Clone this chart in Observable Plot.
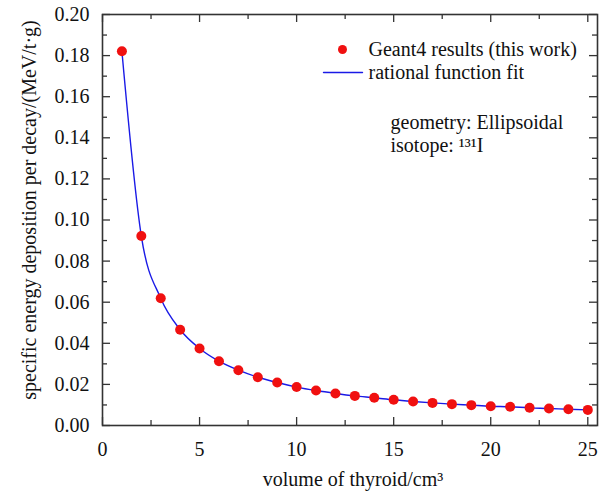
<!DOCTYPE html>
<html>
<head>
<meta charset="utf-8">
<script src="https://cdn.jsdelivr.net/npm/d3@7"></script>
<script src="https://cdn.jsdelivr.net/npm/@observablehq/plot@0.6"></script>
<style>
  html, body { margin: 0; padding: 0; background: #fff; }
  svg { display: block; }
  svg text { font-family: "Liberation Serif", "Times New Roman", serif !important; }
</style>
</head>
<body>
<div id="chart"></div>
<script>
// ---- data ----
const volumes = [1,2,3,4,5,6,7,8,9,10,11,12,13,14,15,16,17,18,19,20,21,22,23,24,25];
const energies = [0.1821,0.0922,0.0619,0.0466,0.0375,0.0313,0.0269,0.0235,0.0209,0.0187,0.0170,0.0156,0.0144,0.0135,0.0125,0.0117,0.0110,0.0104,0.0099,0.0094,0.0091,0.0086,0.0083,0.0079,0.0076];
const xMajor = [0,5,10,15,20,25];
const xMinor = [2.5,7.5,12.5,17.5,22.5];
const yMajor = [0,0.02,0.04,0.06,0.08,0.10,0.12,0.14,0.16,0.18,0.20];
const yMinor = [0.01,0.03,0.05,0.07,0.09,0.11,0.13,0.15,0.17,0.19];
const legendLabels = ["Geant4 results (this work)", "rational function fit"];
const noteLines = ["geometry: Ellipsoidal", "isotope: \u00b9\u00b3\u00b9I"];
const xTitle = "volume of thyroid/cm\u00b3";
const yTitle = "specific energy deposition per decay/(MeV/t\u00b7g)";

const data = volumes.map((v, i) => ({v, e: energies[i]}));

// ---- layout ----
const W = 610, H = 491;
const mL = 102, mR = 13, mT = 14, mB = 66;
const fw = W - mL - mR, fh = H - mT - mB;
const ink = "#333";
const txt = "#111";
const font = "Liberation Serif";
const fs = 20;
const dotColor = "#f01010";
const lineColor = "#1a1ae6";
const lineShape = {draw(ctx, l) { ctx.moveTo(0, 0); ctx.lineTo(0, -l); }};

const chart = Plot.plot({
  width: W, height: H,
  marginLeft: mL, marginRight: mR, marginTop: mT, marginBottom: mB,
  style: {fontFamily: font, fontSize: fs + "px", color: txt, background: "#fff"},
  x: {domain: [0, 25.5]},
  y: {domain: [0, 0.2]},
  marks: [
    // tick labels
    Plot.axisX({ticks: xMajor, tickSize: 0, tickPadding: 16, label: null, fontSize: fs, fontFamily: font, fill: txt}),
    Plot.axisY({ticks: yMajor, tickSize: 0, tickPadding: 13, tickFormat: d3.format(".2f"), label: null, fontSize: fs, fontFamily: font, fill: txt}),
    // inward ticks
    Plot.tickY(yMajor, {y: d => d, insetRight: fw - 8, stroke: ink, strokeWidth: 1.3}),
    Plot.tickY(yMajor, {y: d => d, insetLeft: fw - 8, stroke: ink, strokeWidth: 1.3}),
    Plot.tickY(yMinor, {y: d => d, insetRight: fw - 5, stroke: ink, strokeWidth: 1.3}),
    Plot.tickY(yMinor, {y: d => d, insetLeft: fw - 5, stroke: ink, strokeWidth: 1.3}),
    Plot.tickX(xMajor, {x: d => d, insetTop: fh - 8, stroke: ink, strokeWidth: 1.3}),
    Plot.tickX(xMajor, {x: d => d, insetBottom: fh - 8, stroke: ink, strokeWidth: 1.3}),
    Plot.tickX(xMinor, {x: d => d, insetTop: fh - 5, stroke: ink, strokeWidth: 1.3}),
    Plot.tickX(xMinor, {x: d => d, insetBottom: fh - 5, stroke: ink, strokeWidth: 1.3}),
    Plot.frame({stroke: ink, strokeWidth: 1.6}),
    // axis titles
    Plot.text([xTitle], {frameAnchor: "bottom", text: d => d, dx: 3, dy: 54, textAnchor: "middle", lineAnchor: "middle", fontSize: fs, fontFamily: font, fill: txt}),
    Plot.text([yTitle], {frameAnchor: "left", text: d => d, dx: -73, dy: -10, rotate: -90, textAnchor: "middle", lineAnchor: "middle", fontSize: fs, fontFamily: font, fill: txt}),
    // fit line and points
    Plot.line(data, {x: "v", y: "e", curve: "monotone-x", stroke: lineColor, strokeWidth: 1.4}),
    Plot.dot(data, {x: "v", y: "e", r: 5, fill: dotColor, stroke: "none"}),
    // legend
    Plot.dot([legendLabels[0]], {frameAnchor: "top-left", dx: 240, dy: 35, r: 4.5, fill: dotColor, stroke: "none"}),
    Plot.vector([legendLabels[1]], {frameAnchor: "top-left", dx: 240.5, dy: 58, rotate: 90, length: 39, anchor: "middle", shape: lineShape, stroke: lineColor, strokeWidth: 1.4}),
    Plot.text([legendLabels[0]], {frameAnchor: "top-left", text: d => d, dx: 266, dy: 35, textAnchor: "start", lineAnchor: "middle", fontSize: fs, fontFamily: font, fill: txt}),
    Plot.text([legendLabels[1]], {frameAnchor: "top-left", text: d => d, dx: 266, dy: 58, textAnchor: "start", lineAnchor: "middle", fontSize: fs, fontFamily: font, fill: txt}),
    // annotation
    Plot.text([noteLines[0]], {frameAnchor: "top-left", text: d => d, dx: 288, dy: 108, textAnchor: "start", lineAnchor: "middle", fontSize: fs, fontFamily: font, fill: txt}),
    Plot.text([noteLines[1]], {frameAnchor: "top-left", text: d => d, dx: 288, dy: 131, textAnchor: "start", lineAnchor: "middle", fontSize: fs, fontFamily: font, fill: txt}),
  ]
});
document.getElementById("chart").appendChild(chart);
</script>
</body>
</html>
